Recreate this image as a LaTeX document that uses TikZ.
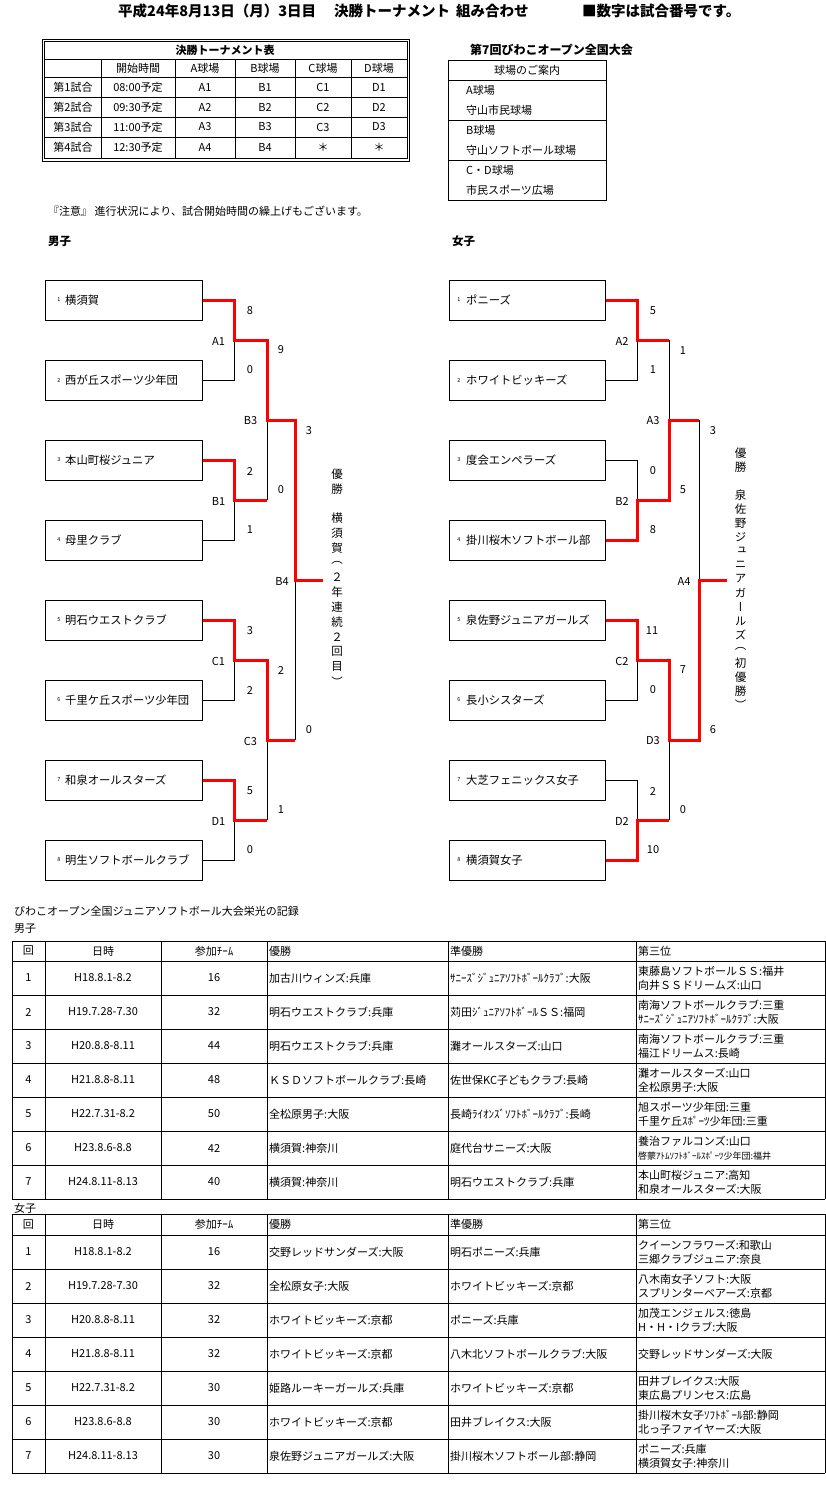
\documentclass[tikz,border=0pt]{standalone}
\usepackage{fontspec}
\setmainfont{Noto Sans CJK JP}
\newfontfamily\vfont[RawFeature=+vert]{Noto Sans CJK JP}
\usetikzlibrary{calc}
\newcommand\setfs[1]{\fontsize{#1}{#1}\selectfont}
\newcommand\recrow[8]{%
  \node[cell] (#1#3n) at (28.5,#2+17) {#3};
  \node[cell] (#1#3d) at (103,#2+17) {#4};
  \node[cell] (#1#3c) at (214,#2+17) {#5};
  \node[lcell] (#1#3w) at (269,#2+17) {#6};
  \node[lcell] (#1#3s) at (450,#2+17) {#7};
  \node[lcell] (#1#3t) at (638,#2+17) {#8};
}
\begin{document}
\begin{tikzpicture}[x=1pt,y=-1pt,
  every node/.style={inner sep=0pt,font=\setfs{11}},
  thinl/.style={line width=0.9pt},
  teambox/.style={draw,line width=0.9pt,minimum width=156.5pt,minimum height=40pt},
  win/.style={draw=red,line width=3pt},
  lose/.style={draw=black,line width=0.9pt},
  lab/.style={font=\setfs{11}},
  seed/.style={font=\setfs{5.5}},
  tname/.style={anchor=west,font=\setfs{11.3}},
  cell/.style={font=\setfs{11}},
  lcell/.style={anchor=west,align=left,font=\fontsize{11}{14}\selectfont},
  vtext/.style={font=\vfont\setfs{11.5}},
  ttl/.style={anchor=west,font=\bfseries\setfs{14.5}}
]
\fill[white] (0,0) rectangle (826,1494);
\useasboundingbox (0,0) rectangle (826,1494);

% ---------- title ----------
\node[ttl] (t1) at (118,11) {平成24年8月13日（月）3日目};
\node[ttl] (t2) at (334,11) {決勝トーナメント};
\node[ttl] (t3) at (456,11) {組み合わせ};
\node[ttl] (t4) at (582,11) {■数字は試合番号です。};

% ---------- schedule table ----------
\draw[thinl] (42,39) rectangle (409.5,161);
\draw[thinl] (44.5,41.5) rectangle (407,158.5);
\foreach \y in {59,77,97,117,137} \draw[thinl] (44.5,\y) -- (407,\y);
\foreach \x in {101.5,175,235,295,351.5} \draw[thinl] (\x,59) -- (\x,158.5);
\node[font=\bfseries\setfs{11}] (st) at (225,50) {決勝トーナメント表};
\node (sh1) at (138,68) {開始時間};
\node (sh2) at (205,68) {A球場};
\node (sh3) at (265,68) {B球場};
\node (sh4) at (323,68) {C球場};
\node (sh5) at (379,68) {D球場};
\foreach \k/\tm/\a/\b/\c/\d in {1/08:00/A1/B1/C1/D1,2/09:30/A2/B2/C2/D2,3/11:00/A3/B3/C3/D3,4/12:30/A4/B4/＊/＊}{
  \node (sr\k a) at (73,{67+20*\k}) {第\k 試合};
  \node (sr\k b) at (138,{67+20*\k}) {\tm 予定};
  \node (sr\k c) at (205,{67+20*\k}) {\a};
  \node (sr\k d) at (265,{67+20*\k}) {\b};
  \node (sr\k e) at (323,{67+20*\k}) {\c};
  \node (sr\k f) at (379,{67+20*\k}) {\d};
}

% ---------- venue table ----------
\node[font=\bfseries\setfs{12}, anchor=west] (vt) at (470,50) {第7回びわこオープン全国大会};
\draw[thinl] (448,60) rectangle (606,200);
\foreach \y in {80,120,160} \draw[thinl] (448,\y) -- (606,\y);
\node (v0) at (527,70) {球場のご案内};
\node[anchor=west] (v1) at (466,90) {A球場};
\node[anchor=west] (v2) at (466,110) {守山市民球場};
\node[anchor=west] (v3) at (466,130) {B球場};
\node[anchor=west] (v4) at (466,150) {守山ソフトボール球場};
\node[anchor=west] (v5) at (466,170) {C・D球場};
\node[anchor=west] (v6) at (466,190) {市民スポーツ広場};

\node[anchor=west] (note) at (48,211) {『注意』 進行状況により、試合開始時間の繰上げもございます。};
\node[anchor=west,font=\bfseries\setfs{11.5}] (boys) at (48,241) {男子};
\node[anchor=west,font=\bfseries\setfs{11.5}] (girls) at (452,241) {女子};

% ---------- boys bracket ----------
\foreach \i/\t in {1/横須賀,2/西が丘スポーツ少年団,3/本山町桜ジュニア,4/母里クラブ,5/明石ウエストクラブ,6/千里ケ丘スポーツ少年団,7/和泉オールスターズ,8/明生ソフトボールクラブ}{
  \node[teambox] (m\i) at (124,{300+80*(\i-1)}) {};
  \node[seed] (ms\i) at (59,{300+80*(\i-1)}) {\i};
  \node[tname] (mt\i) at (65,{300+80*(\i-1)}) {\t};
}
\coordinate (mA1) at (234,340);
\coordinate (mB1) at (234,500);
\coordinate (mC1) at (234,660);
\coordinate (mD1) at (234,820);
\coordinate (mB3) at (267,420);
\coordinate (mC3) at (267,740);
\coordinate (mB4) at (295,580);
\coordinate (mW) at (323,580);
\draw[lose] (m2.east) -| (mA1);
\draw[lose] (m4.east) -| (mB1);
\draw[lose] (m6.east) -| (mC1);
\draw[lose] (m8.east) -| (mD1);
\draw[lose] (mB3) -- (mB3 |- mB1);
\draw[lose] (mC3) -- (mC3 |- mD1);
\draw[lose] (mB4) -- (mB4 |- mC3);
\draw[win] (m1.east) -| (mA1) -| (mB3) -| (mB4) -- (mW);
\draw[win] (m3.east) -| (mB1) -- (mB1 -| mB3);
\draw[win] (m5.east) -| (mC1) -| (mC3) -- (mC3 -| mB4);
\draw[win] (m7.east) -| (mD1) -- (mD1 -| mC3);
\foreach \x/\y/\t [count=\k] in {250/311/8,218.5/341/A1,250/370/0,281/350/9,250.5/421/B3,309/431/3,250/471/2,218.5/501/B1,281/490/0,250/530/1,282/581/B4,250/631/3,218.5/661/C1,281/670/2,250/690/2,250.5/741/C3,309/730/0,250/791/5,218.5/821/D1,281/810/1,250/850/0}
  \node[lab] (ml\k) at (\x,\y) {\t};
\foreach \c [count=\k from 0] in {優,勝,　,横,須,賀,︵,２,年,連,続,２,回,目,︶}
  \node[vtext] (mv\k) at (337,{474+14.8*\k}) {\c};

% ---------- girls bracket ----------
\foreach \i/\t in {1/ポニーズ,2/ホワイトビッキーズ,3/度会エンペラーズ,4/掛川桜木ソフトボール部,5/泉佐野ジュニアガールズ,6/長小シスターズ,7/大芝フェニックス女子,8/横須賀女子}{
  \node[teambox] (w\i) at (527.5,{300+80*(\i-1)}) {};
  \node[seed] (ws\i) at (459,{300+80*(\i-1)}) {\i};
  \node[tname] (wt\i) at (466,{300+80*(\i-1)}) {\t};
}
\coordinate (wA2) at (637,340);
\coordinate (wB2) at (637,500);
\coordinate (wC2) at (637,660);
\coordinate (wD2) at (637,820);
\coordinate (wA3) at (669,420);
\coordinate (wD3) at (669,740);
\coordinate (wA4) at (699,580);
\coordinate (wW) at (727,580);
\draw[lose] (w2.east) -| (wA2);
\draw[lose] (w3.east) -| (wB2);
\draw[lose] (w6.east) -| (wC2);
\draw[lose] (w7.east) -| (wD2);
\draw[lose] (wA2 -| wA3) -- (wA3);
\draw[lose] (wA3 -| wA4) -- (wA4);
\draw[lose] (wD3) -- (wD3 |- wD2);
\draw[win] (w1.east) -| (wA2) -- (wA2 -| wA3);
\draw[win] (w4.east) -| (wB2) -| (wA3) -- (wA3 -| wA4);
\draw[win] (w5.east) -| (wC2) -| (wD3) -| (wA4) -- (wW);
\draw[win] (w8.east) -| (wD2) -- (wD2 -| wD3);
\foreach \x/\y/\t [count=\k] in {653/311/5,622/341/A2,653/370/1,683/351/1,653/421/A3,713/431/3,653/471/0,622/501/B2,683/490/5,653/530/8,684/581/A4,652/631/11,622/661/C2,683/670/7,653/690/0,653/741/D3,713/730/6,653/791/2,622/821/D2,683/810/0,653/850/10}
  \node[lab] (wl\k) at (\x,\y) {\t};
\foreach \c [count=\k from 0] in {優,勝,　,泉,佐,野,ジ,ュ,ニ,ア,ガ,ー,ル,ズ,︵,初,優,勝,︶}
  \node[vtext] (wv\k) at (740.5,{453+14*\k}) {\c};

% ---------- records ----------
\node[anchor=west] (rt) at (14,911) {びわこオープン全国ジュニアソフトボール大会栄光の記録};
\node[anchor=west] (rb) at (14,929) {男子};
\foreach \y in {941,961,995,1029,1063,1097,1131,1165,1199} \draw[thinl] (12,\y) -- (825,\y);
\foreach \x in {12,45,161,267,448,636,825} \draw[thinl] (\x,941) -- (\x,1199);
\node[cell] (mh1) at (28.5,951) {回};
\node[cell] (mh2) at (103,951) {日時};
\node[cell] (mh3) at (214,951) {参加ﾁｰﾑ};
\node[lcell] (mh4) at (269,951) {優勝};
\node[lcell] (mh5) at (450,951) {準優勝};
\node[lcell] (mh6) at (638,951) {第三位};
\recrow{m}{961}{1}{H18.8.1-8.2}{16}{加古川ウィンズ:兵庫}{ｻﾆｰｽﾞｼﾞｭﾆｱｿﾌﾄﾎﾞｰﾙｸﾗﾌﾞ:大阪}{東藤島ソフトボールＳＳ:福井\\向井ＳＳドリームズ:山口}
\recrow{m}{995}{2}{H19.7.28-7.30}{32}{明石ウエストクラブ:兵庫}{苅田ｼﾞｭﾆｱｿﾌﾄﾎﾞｰﾙＳＳ:福岡}{南海ソフトボールクラブ:三重\\ｻﾆｰｽﾞｼﾞｭﾆｱｿﾌﾄﾎﾞｰﾙｸﾗﾌﾞ:大阪}
\recrow{m}{1029}{3}{H20.8.8-8.11}{44}{明石ウエストクラブ:兵庫}{灘オールスターズ:山口}{南海ソフトボールクラブ:三重\\福江ドリームス:長崎}
\recrow{m}{1063}{4}{H21.8.8-8.11}{48}{ＫＳＤソフトボールクラブ:長崎}{佐世保KC子どもクラブ:長崎}{灘オールスターズ:山口\\全松原男子:大阪}
\recrow{m}{1097}{5}{H22.7.31-8.2}{50}{全松原男子:大阪}{長崎ﾗｲｵﾝｽﾞｿﾌﾄﾎﾞｰﾙｸﾗﾌﾞ:長崎}{旭スポーツ少年団:三重\\千里ケ丘ｽﾎﾟｰﾂ少年団:三重}
\recrow{m}{1131}{6}{H23.8.6-8.8}{42}{横須賀:神奈川}{庭代台サニーズ:大阪}{養治ファルコンズ:山口\\{\fontsize{9}{14}\selectfont 啓蒙ｱﾄﾑｿﾌﾄﾎﾞｰﾙｽﾎﾟｰﾂ少年団:福井}}
\recrow{m}{1165}{7}{H24.8.11-8.13}{40}{横須賀:神奈川}{明石ウエストクラブ:兵庫}{本山町桜ジュニア:高知\\和泉オールスターズ:大阪}

\node[anchor=west] (rg) at (14,1208) {女子};
\foreach \y in {1214,1235,1269,1303,1337,1371,1405,1439,1473} \draw[thinl] (12,\y) -- (825,\y);
\foreach \x in {12,45,161,267,448,636,825} \draw[thinl] (\x,1214) -- (\x,1473);
\node[cell] (wh1) at (28.5,1224.5) {回};
\node[cell] (wh2) at (103,1224.5) {日時};
\node[cell] (wh3) at (214,1224.5) {参加ﾁｰﾑ};
\node[lcell] (wh4) at (269,1224.5) {優勝};
\node[lcell] (wh5) at (450,1224.5) {準優勝};
\node[lcell] (wh6) at (638,1224.5) {第三位};
\recrow{w}{1235}{1}{H18.8.1-8.2}{16}{交野レッドサンダーズ:大阪}{明石ポニーズ:兵庫}{クイーンフラワーズ:和歌山\\三郷クラブジュニア:奈良}
\recrow{w}{1269}{2}{H19.7.28-7.30}{32}{全松原女子:大阪}{ホワイトビッキーズ:京都}{八木南女子ソフト:大阪\\スプリンターベアーズ:京都}
\recrow{w}{1303}{3}{H20.8.8-8.11}{32}{ホワイトビッキーズ:京都}{ポニーズ:兵庫}{加茂エンジェルス:徳島\\H・H・Iクラブ:大阪}
\recrow{w}{1337}{4}{H21.8.8-8.11}{32}{ホワイトビッキーズ:京都}{八木北ソフトボールクラブ:大阪}{交野レッドサンダーズ:大阪}
\recrow{w}{1371}{5}{H22.7.31-8.2}{30}{姫路ルーキーガールズ:兵庫}{ホワイトビッキーズ:京都}{田井ブレイクス:大阪\\東広島プリンセス:広島}
\recrow{w}{1405}{6}{H23.8.6-8.8}{30}{ホワイトビッキーズ:京都}{田井ブレイクス:大阪}{掛川桜木女子ｿﾌﾄﾎﾞｰﾙ部:静岡\\北っ子ファイヤーズ:大阪}
\recrow{w}{1439}{7}{H24.8.11-8.13}{30}{泉佐野ジュニアガールズ:大阪}{掛川桜木ソフトボール部:静岡}{ポニーズ:兵庫\\横須賀女子:神奈川}
\end{tikzpicture}
\end{document}
